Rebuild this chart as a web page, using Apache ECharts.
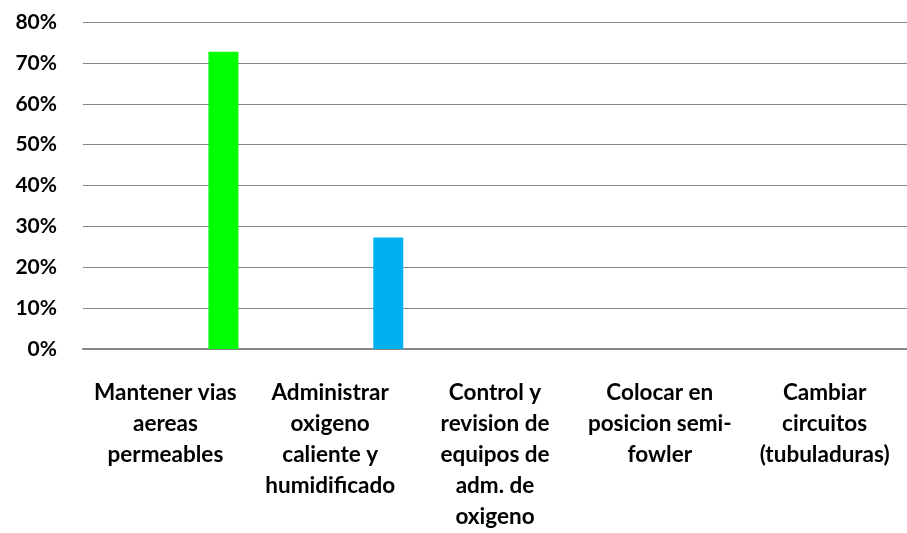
<!DOCTYPE html>
<html>
<head>
<meta charset="utf-8">
<script src="https://cdn.jsdelivr.net/npm/echarts@6/dist/echarts.min.js"></script>
<style>
  html, body { margin: 0; padding: 0; background: #fff; }
  #box { width: 907px; height: 533px; }
</style>
</head>
<body>
<div id="box"></div>
<script>
  const categories = [
    'Mantener vias\naereas\npermeables',
    'Administrar\noxigeno\ncaliente y\nhumidificado',
    'Control y\nrevision de\nequipos de\nadm. de\noxigeno',
    'Colocar en\nposicion semi-\nfowler',
    'Cambiar\ncircuitos\n(tubuladuras)',
  ];
  const values = [72.7, 27.3, 0, 0, 0];
  const barColors = ['#00ff00', '#00b0f0', '#00ff00', '#00ff00', '#00ff00'];
  const yTicks = [0, 10, 20, 30, 40, 50, 60, 70, 80];

  const chart = echarts.init(document.getElementById('box'));
  chart.setOption({
    animation: false,
    grid: { left: 83, right: 0, top: 22, bottom: 184, outerBoundsMode: 'none', containLabel: false },
    xAxis: {
      type: 'category',
      data: categories,
      axisTick: { show: false },
      axisLine: { lineStyle: { color: '#868686', width: 2 } },
      axisLabel: {
        interval: 0,
        margin: 28,
        color: '#000',
        fontFamily: 'Lato',
        fontWeight: 'bold',
        fontSize: 22.5,
        lineHeight: 31,
        letterSpacing: 0.7,
      },
    },
    yAxis: {
      type: 'value',
      min: yTicks[0],
      max: yTicks[yTicks.length - 1],
      interval: 10,
      axisLine: { show: false },
      axisTick: { show: false },
      splitLine: { lineStyle: { color: '#868686', width: 1 } },
      axisLabel: {
        formatter: '{value}%',
        margin: 26,
        color: '#000',
        fontFamily: 'Lato',
        fontWeight: 'bold',
        fontSize: 21,
        letterSpacing: 0.5,
      },
    },
    series: [
      {
        // empty slot before the visible bars (as in the source chart)
        type: 'bar',
        data: categories.map(() => null),
        barWidth: 30,
        barGap: '287%',
      },
      {
        type: 'bar',
        barWidth: 30,
        barGap: '287%',
        data: values.map((v, i) => ({ value: v, itemStyle: { color: barColors[i] } })),
      },
    ],
  });
</script>
</body>
</html>
